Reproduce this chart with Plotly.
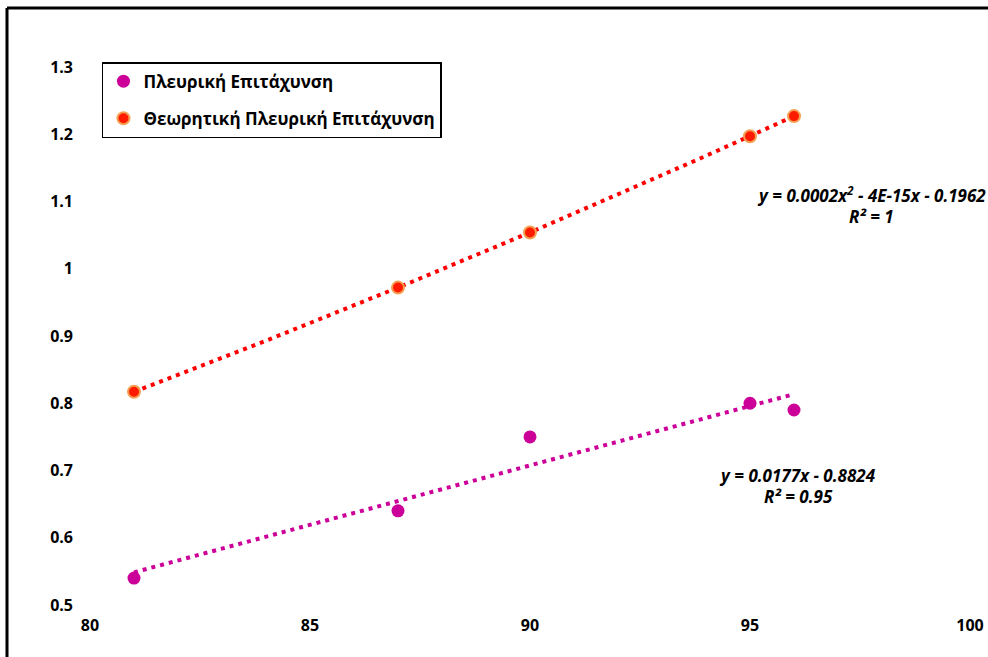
import numpy as np
import plotly.graph_objects as go

# Speed (x) and lateral acceleration readings
speed = [81, 87, 90, 95, 96]
lateral_measured = [0.54, 0.64, 0.75, 0.80, 0.79]
lateral_theory = [0.817, 0.972, 1.054, 1.197, 1.227]

series_names = ["Πλευρική Επιτάχυνση", "Θεωρητική Πλευρική Επιτάχυνση"]
x_ticks = [80, 85, 90, 95, 100]
y_ticks = [0.5, 0.6, 0.7, 0.8, 0.9, 1.0, 1.1, 1.2, 1.3]
y_tick_text = ["0.5", "0.6", "0.7", "0.8", "0.9", "1", "1.1", "1.2", "1.3"]

eq_measured = ["y = 0.0177x - 0.8824", "R² = 0.95"]
eq_theory = ["y = 0.0002x<sup>2</sup> - 4E-15x - 0.1962", "R² = 1"]

MAGENTA = "#CC0099"
RED = "#FF1A00"
FONT = "Open Sans"

# Trendlines fitted to the data
xs = np.linspace(min(speed), max(speed), 200)
lin = np.polyfit(speed, lateral_measured, 1)
quad = np.polyfit(speed, lateral_theory, 2)

fig = go.Figure()
fig.add_trace(go.Scatter(x=xs, y=np.polyval(lin, xs), mode="lines",
                         line=dict(color=MAGENTA, width=4, dash="4px,5px"),
                         showlegend=False, hoverinfo="skip"))
fig.add_trace(go.Scatter(x=xs, y=np.polyval(quad, xs), mode="lines",
                         line=dict(color="#FF0000", width=4, dash="4px,5px"),
                         showlegend=False, hoverinfo="skip"))
fig.add_trace(go.Scatter(x=speed, y=lateral_measured, mode="markers",
                         name=series_names[0], legendgroup="a",
                         marker=dict(color=MAGENTA, size=13, line=dict(width=0))))
fig.add_trace(go.Scatter(x=speed, y=lateral_theory, mode="markers",
                         name=series_names[1], legendgroup="b",
                         marker=dict(color=RED, size=12,
                                     line=dict(color="#F4A052", width=2))))

ann_font = dict(family=FONT, size=17, color="#000000")
annotations = []
for txt, x, y in [(eq_theory[0], 97.75, 1.11), (eq_theory[1], 97.75, 1.078),
                  (eq_measured[0], 96.07, 0.693), (eq_measured[1], 96.1, 0.662)]:
    annotations.append(dict(x=x, y=y, xref="x", yref="y", text="<b><i>" + txt + "</i></b>",
                            showarrow=False, font=ann_font, xanchor="center", yanchor="middle"))

tick_font = dict(family=FONT, size=16, color="#000000", weight="bold")

fig.update_layout(
    width=988, height=657,
    margin=dict(l=90, r=18, t=67, b=52),
    paper_bgcolor="white", plot_bgcolor="white",
    font=dict(family=FONT, size=16, color="#000000"),
    xaxis=dict(range=[80, 100], tickvals=x_ticks, showgrid=False, zeroline=False,
               showline=False, ticks="", ticklabelstandoff=9, automargin=False,
               tickfont=tick_font),
    yaxis=dict(range=[0.5, 1.3], tickvals=y_ticks, ticktext=y_tick_text, showgrid=False,
               zeroline=False, showline=False, ticks="", ticklabelstandoff=16,
               automargin=False, tickfont=tick_font),
    legend=dict(x=0.0136, y=1.009, xanchor="left", yanchor="top",
                bordercolor="#000000", borderwidth=1.5, bgcolor="white",
                tracegroupgap=12,
                font=dict(family=FONT, size=17, color="#000000", weight="bold")),
    annotations=annotations,
    shapes=[
        dict(type="line", xref="paper", yref="paper",
             x0=(7 - 90) / 880, x1=(1000 - 90) / 880,
             y0=(605 - 8) / 538, y1=(605 - 8) / 538,
             line=dict(color="#000000", width=3)),
        dict(type="line", xref="paper", yref="paper",
             x0=(7 - 90) / 880, x1=(7 - 90) / 880,
             y0=(605 - 8) / 538, y1=(605 - 670) / 538,
             line=dict(color="#000000", width=3)),
    ],
)

fig.write_html("out.html")
